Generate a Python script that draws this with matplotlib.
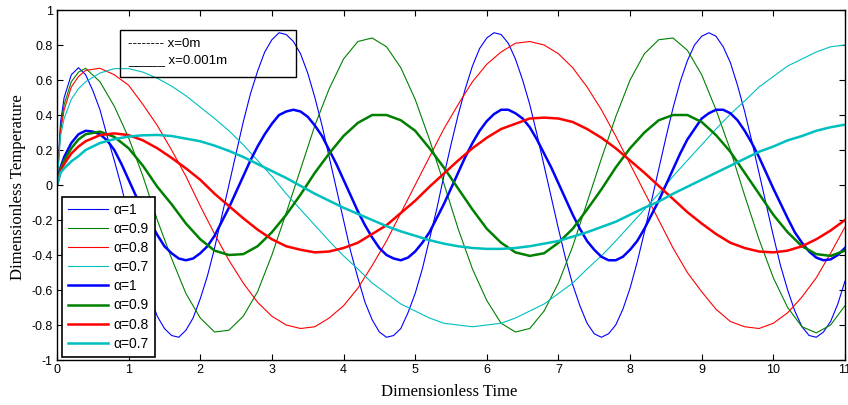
import numpy as np
import matplotlib.pyplot as plt
from matplotlib.patches import Rectangle

# sample times (dimensionless): coarse grid for slow curves, fine grid for alpha=1
t = np.r_[0, 0.05, 0.1, 0.2, 0.3, np.arange(2, 56) / 5]
t_fine = np.r_[0, 0.05, 0.1, 0.2, 0.3, np.arange(4, 111) / 10]

# thin curves
thin_a10 = [0, 0.36, 0.50, 0.63, 0.67,
            0.63, 0.54, 0.43, 0.28, 0.14, -0.01, -0.18, -0.34, -0.50, -0.64, -0.75, -0.82,
            -0.86, -0.87, -0.83, -0.76, -0.65, -0.52, -0.36, -0.18, 0.0, 0.18, 0.36, 0.52,
            0.65, 0.76, 0.83, 0.87, 0.86, 0.82, 0.75, 0.64, 0.50, 0.34, 0.16, -0.02, -0.20,
            -0.38, -0.53, -0.67, -0.77, -0.84, -0.87, -0.86, -0.82, -0.73, -0.62, -0.48,
            -0.31, -0.14, 0.05, 0.23, 0.40, 0.55, 0.68, 0.78, 0.84, 0.87, 0.86, 0.81, 0.72,
            0.60, 0.46, 0.29, 0.11, -0.07, -0.25, -0.42, -0.57, -0.69, -0.79, -0.85, -0.87,
            -0.85, -0.80, -0.71, -0.59, -0.44, -0.27, -0.09, 0.09, 0.27, 0.44, 0.59, 0.71,
            0.80, 0.85, 0.87, 0.85, 0.79, 0.70, 0.57, 0.42, 0.25, 0.07, -0.11, -0.29, -0.46,
            -0.60, -0.72, -0.81, -0.86, -0.87, -0.84, -0.78, -0.68, -0.55]
thin_a09 = [0, 0.33, 0.46, 0.59, 0.645, 0.667, 0.59, 0.45, 0.27, 0.05, -0.20, -0.42, -0.62,
            -0.76, -0.84, -0.83, -0.75, -0.61, -0.40, -0.16, 0.09, 0.34, 0.55, 0.72, 0.82, 0.84,
            0.79, 0.67, 0.49, 0.26, 0.01, -0.25, -0.48, -0.66, -0.79, -0.84, -0.82, -0.72, -0.56,
            -0.35, -0.10, 0.15, 0.39, 0.60, 0.75, 0.83, 0.84, 0.77, 0.63, 0.43, 0.20, -0.06,
            -0.31, -0.53, -0.70, -0.81, -0.845, -0.80, -0.69]
thin_a08 = [0, 0.31, 0.43, 0.56, 0.62, 0.655, 0.667, 0.63, 0.57, 0.46, 0.34, 0.20, 0.05,
            -0.12, -0.28, -0.43, -0.56, -0.67, -0.75, -0.80, -0.82, -0.81, -0.76, -0.69, -0.59,
            -0.46, -0.32, -0.16, 0.0, 0.16, 0.32, 0.46, 0.59, 0.69, 0.76, 0.81, 0.82, 0.80, 0.75,
            0.67, 0.56, 0.43, 0.28, 0.12, -0.04, -0.20, -0.36, -0.50, -0.61, -0.71, -0.78, -0.81,
            -0.82, -0.79, -0.73, -0.64, -0.53, -0.39, -0.24]
thin_a07 = [0, 0.28, 0.38, 0.49, 0.55, 0.59, 0.64, 0.665, 0.665, 0.645, 0.61, 0.565, 0.51,
            0.445, 0.38, 0.31, 0.23, 0.14, 0.05, -0.05, -0.14, -0.23, -0.32, -0.405, -0.48,
            -0.56, -0.62, -0.68, -0.72, -0.76, -0.79, -0.80, -0.81, -0.80, -0.79, -0.76, -0.72,
            -0.68, -0.62, -0.56, -0.48, -0.405, -0.32, -0.23, -0.14, -0.05, 0.05, 0.14, 0.23,
            0.32, 0.405, 0.48, 0.56, 0.62, 0.68, 0.72, 0.76, 0.79, 0.80]

# thick curves
thick_a10 = [0, 0.10, 0.16, 0.24, 0.29,
             0.31, 0.305, 0.29, 0.255, 0.20, 0.12, 0.03, -0.06, -0.14, -0.21, -0.285, -0.35,
             -0.39, -0.42, -0.43, -0.42, -0.39, -0.35, -0.29, -0.21, -0.13, -0.04, 0.05, 0.14,
             0.22, 0.29, 0.35, 0.40, 0.42, 0.43, 0.42, 0.39, 0.34, 0.28, 0.20, 0.12, 0.03, -0.06,
             -0.15, -0.23, -0.30, -0.36, -0.40, -0.42, -0.43, -0.415, -0.38, -0.33, -0.27,
             -0.19, -0.11, -0.02, 0.07, 0.16, 0.24, 0.31, 0.365, 0.405, 0.43, 0.43, 0.41, 0.38,
             0.33, 0.26, 0.18, 0.10, 0.01, -0.08, -0.17, -0.25, -0.32, -0.37, -0.41, -0.43,
             -0.43, -0.41, -0.37, -0.32, -0.25, -0.17, -0.09, 0.0, 0.09, 0.18, 0.26, 0.32, 0.38,
             0.41, 0.43, 0.43, 0.41, 0.37, 0.31, 0.24, 0.16, 0.07, -0.02, -0.105, -0.19, -0.27,
             -0.33, -0.38, -0.415, -0.43, -0.425, -0.40, -0.36]
thick_a09 = [0, 0.09, 0.14, 0.21, 0.26, 0.29, 0.305, 0.275, 0.21, 0.11, -0.01, -0.11, -0.22,
             -0.31, -0.375, -0.40, -0.395, -0.35, -0.27, -0.17, -0.055, 0.07, 0.18, 0.28, 0.355,
             0.40, 0.40, 0.37, 0.31, 0.21, 0.10, -0.02, -0.14, -0.25, -0.33, -0.385, -0.405,
             -0.39, -0.33, -0.25, -0.14, -0.025, 0.10, 0.21, 0.30, 0.37, 0.40, 0.40, 0.36, 0.285,
             0.19, 0.07, -0.05, -0.17, -0.27, -0.35, -0.395, -0.405, -0.375]
thick_a08 = [0, 0.08, 0.12, 0.18, 0.22, 0.25, 0.285, 0.295, 0.285, 0.255, 0.21, 0.155, 0.095,
             0.03, -0.05, -0.12, -0.19, -0.255, -0.31, -0.35, -0.37, -0.385, -0.38, -0.36, -0.33,
             -0.28, -0.23, -0.16, -0.09, -0.01, 0.065, 0.14, 0.21, 0.27, 0.32, 0.35, 0.38, 0.385,
             0.38, 0.36, 0.32, 0.27, 0.21, 0.14, 0.07, -0.005, -0.08, -0.155, -0.22, -0.28,
             -0.33, -0.36, -0.38, -0.385, -0.375, -0.35, -0.31, -0.26, -0.20]
thick_a07 = [0, 0.07, 0.095, 0.135, 0.165, 0.20, 0.24, 0.262, 0.277, 0.284, 0.286, 0.28, 0.265,
             0.25, 0.225, 0.195, 0.16, 0.12, 0.08, 0.04, -0.005, -0.05, -0.09, -0.13, -0.165,
             -0.20, -0.235, -0.265, -0.29, -0.315, -0.335, -0.35, -0.36, -0.365, -0.365, -0.36,
             -0.35, -0.335, -0.32, -0.295, -0.27, -0.24, -0.21, -0.17, -0.13, -0.095, -0.05,
             -0.01, 0.03, 0.07, 0.11, 0.15, 0.19, 0.22, 0.255, 0.28, 0.31, 0.33, 0.345]

labels = ['α=1', 'α=0.9', 'α=0.8', 'α=0.7']
colors = ['#0000ff', '#008000', '#ff0000', '#00bfbf']
xticks = [0, 1, 2, 3, 4, 5, 6, 7, 8, 9, 10, 11]
yticks = [-1, -0.8, -0.6, -0.4, -0.2, 0, 0.2, 0.4, 0.6, 0.8, 1]
ytick_labels = ['-1', '-0.8', '-0.6', '-0.4', '-0.2', '0', '0.2', '0.4', '0.6', '0.8', '1']

sans = 'Liberation Sans'
serif = 'Liberation Serif'

fig = plt.figure(figsize=(8.48, 4.05), dpi=100)
ax = fig.add_axes([0.0672, 0.1111, 0.9292, 0.8642])

thin = [(t_fine, thin_a10), (t, thin_a09), (t, thin_a08), (t, thin_a07)]
thick = [(t_fine, thick_a10), (t, thick_a09), (t, thick_a08), (t, thick_a07)]
for (x, y), c, lab in zip(thin, colors, labels):
    ax.plot(x, y, color=c, lw=0.8, label=lab)
for (x, y), c, lab in zip(thick, colors, labels):
    ax.plot(x, y, color=c, lw=1.8, label=lab)

ax.set_xlim(0, 11)
ax.set_ylim(-1, 1)
ax.set_xticks(xticks)
ax.set_xticklabels([str(v) for v in xticks], fontfamily=sans, fontsize=9)
ax.set_yticks(yticks)
ax.set_yticklabels(ytick_labels, fontfamily=sans, fontsize=9)
ax.tick_params(direction='in', top=True, right=True, length=4, width=0.8, pad=3)
for s in ax.spines.values():
    s.set_linewidth(1.0)

fig.text(0.530, 0.031, 'Dimensionless Time', family=serif, fontsize=12,
         ha='center', va='center')
fig.text(0.021, 0.538, 'Dimensionless Temperature', family=serif, fontsize=12,
         rotation=90, ha='center', va='center')

leg = ax.legend(loc='lower left', bbox_to_anchor=(0.0063, 0.0086), borderaxespad=0,
                fancybox=False, framealpha=1, edgecolor='black',
                prop={'family': sans, 'size': 10}, handlelength=2.85,
                handletextpad=0.4, borderpad=0.45, labelspacing=0.37)
leg.get_frame().set_linewidth(1.2)

# position annotation box
ax.add_patch(Rectangle((0.080, 0.8086), 0.2233, 0.1343, transform=ax.transAxes,
                       fill=False, ec='black', lw=1.0, zorder=5))
ax.text(0.0901, 0.903, '-------- x=0m', transform=ax.transAxes, family=sans,
        fontsize=9.5, va='center', ha='left', zorder=6)
ax.text(0.0901, 0.858, '_____ x=0.001m', transform=ax.transAxes, family=sans,
        fontsize=9.5, va='center', ha='left', zorder=6)

fig.savefig('out.png', dpi=100)
